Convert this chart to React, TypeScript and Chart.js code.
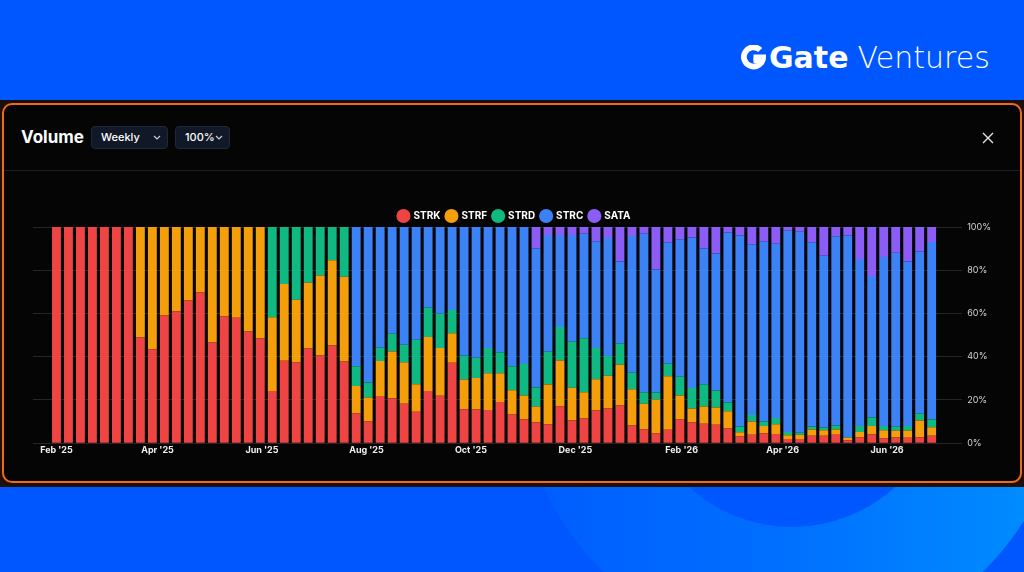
import React, { useEffect, useRef } from "react";
import { Chart, registerables } from "chart.js";

Chart.register(...registerables);

// ---- data ----
const START_DATE = "2025-02-01";
const WEEK_COUNT = 74;
const SERIES_NAMES = ["STRK", "STRF", "STRD", "STRC", "SATA"];
const SERIES_COLORS = ["#EF4444", "#F59E0B", "#10B981", "#3B82F6", "#8B5CF6"];

const STRK = [100, 100, 100, 100, 100, 100, 100, 48.9, 43.4, 59.1, 61, 66, 69.8, 46.6, 58.6, 58, 51.7, 48.5, 24.2, 38.1, 37.3, 43.8, 40.6, 45.2, 37.8, 13.9, 10.0, 21.8, 20.8, 18.2, 14.5, 24.1, 21.9, 37.2, 15.7, 15.6, 15.4, 19.0, 13.3, 11.1, 9.7, 8.8, 17.0, 10.6, 11.4, 15.1, 16.0, 17.4, 8.2, 6.5, 4.5, 6.2, 11.0, 9.7, 9.0, 8.5, 6.8, 3.1, 3.9, 4.5, 4.3, 1.9, 1.9, 3.5, 3.5, 3.9, 1.4, 2.6, 4.0, 2.3, 2.6, 2.5, 2.8, 3.4];
const STRF = [0, 0, 0, 0, 0, 0, 0, 51.1, 56.6, 40.9, 39, 34, 30.2, 53.4, 41.4, 42, 48.3, 51.5, 34.1, 35.5, 29.1, 30.4, 37, 39.4, 39.2, 12.5, 11.1, 16.2, 21.6, 19.3, 12.8, 25.0, 22.1, 13.7, 13.8, 14.5, 17.0, 13.3, 11.2, 11.0, 7.3, 18.4, 21.3, 15.0, 12.2, 14.5, 15.2, 18.9, 16.8, 11.7, 15.7, 24.8, 11.1, 6.3, 8.0, 8.0, 8.0, 2.0, 6.1, 3.4, 4.5, 1.8, 2.0, 2.8, 2.5, 2.4, 1.1, 2.6, 3.9, 3.7, 3.3, 3.4, 7.7, 4.0];
const STRD = [0, 0, 0, 0, 0, 0, 0, 0, 0, 0, 0, 0, 0, 0, 0, 0, 0, 0, 41.7, 26.4, 33.6, 25.8, 22.4, 15.4, 23, 9.2, 7.0, 6.1, 8.2, 8.0, 20.5, 13.6, 15.9, 10.7, 10.9, 9.4, 11.6, 9.8, 11.1, 14.5, 8.8, 15.1, 15.4, 21.3, 25.0, 14.4, 9.1, 9.7, 7.6, 5.4, 3.3, 5.7, 8.6, 9.5, 10.3, 7.9, 4.0, 2.6, 3.1, 2.1, 2.9, 1.5, 0.9, 1.4, 1.3, 1.9, 0.4, 2.8, 4.0, 2.0, 1.7, 2.1, 3.1, 3.6];
const STRC = [0, 0, 0, 0, 0, 0, 0, 0, 0, 0, 0, 0, 0, 0, 0, 0, 0, 0, 0, 0, 0, 0, 0, 0, 0, 64.4, 71.9, 55.9, 49.4, 54.5, 52.2, 37.3, 40.1, 38.4, 59.6, 60.5, 56.0, 57.9, 64.4, 63.4, 64.2, 54.0, 42.6, 49.4, 48.3, 49.4, 54.6, 38.1, 63.2, 73.3, 56.9, 56.2, 63.6, 69.6, 62.7, 63.3, 78.6, 88.4, 78.9, 83.2, 80.6, 93.1, 93.0, 85.2, 79.4, 87.5, 93.2, 77.2, 65.4, 78.1, 80.5, 76.1, 75.1, 82.1];
const SATA = [0, 0, 0, 0, 0, 0, 0, 0, 0, 0, 0, 0, 0, 0, 0, 0, 0, 0, 0, 0, 0, 0, 0, 0, 0, 0, 0, 0, 0, 0, 0, 0, 0, 0, 0, 0, 0, 0, 0, 0, 10.0, 3.7, 3.7, 3.7, 3.1, 6.6, 5.1, 15.9, 4.2, 3.1, 19.6, 7.1, 5.7, 4.9, 10.0, 12.3, 2.6, 3.9, 8.0, 6.8, 7.7, 1.7, 2.2, 7.1, 13.3, 4.3, 3.9, 14.8, 22.7, 13.9, 11.9, 15.9, 11.3, 6.9];

const TICK_DATES = ["2025-02-01", "2025-04-01", "2025-06-01", "2025-08-01", "2025-10-01", "2025-12-01", "2026-02-01", "2026-04-01", "2026-06-01"];
const TICK_LABELS = ["Feb '25", "Apr '25", "Jun '25", "Aug '25", "Oct '25", "Dec '25", "Feb '26", "Apr '26", "Jun '26"];
const Y_TICKS = [0, 20, 40, 60, 80, 100];

const dayOffset = (d: string) => Math.round((Date.parse(d) - Date.parse(START_DATE)) / 86400000);
// week positions (days since start), one per weekly bar
const WEEK_DAYS = Array.from({ length: WEEK_COUNT }, (_, i) => i * 7);
const TICK_DAYS = TICK_DATES.map(dayOffset);
const SERIES_VALUES = [STRK, STRF, STRD, STRC, SATA];

const FONT = "Inter, 'Noto Sans', 'DejaVu Sans', sans-serif";

const legendGap = {
  id: "legendGap",
  afterInit(chart: any) {
    const legend = chart.legend;
    if (!legend) return;
    const origFit = legend.fit;
    legend.fit = function () {
      origFit.call(this);
      this.height -= 4;
    };
  },
};

function VolumeChart() {
  const ref = useRef<HTMLCanvasElement | null>(null);
  useEffect(() => {
    if (!ref.current) return;
    const chart = new Chart(ref.current, {
      type: "bar",
      plugins: [legendGap],
      data: {
        labels: WEEK_DAYS,
        datasets: SERIES_NAMES.map((name, i) => ({
          label: name,
          data: SERIES_VALUES[i],
          backgroundColor: SERIES_COLORS[i],
          borderWidth: 0,
          categoryPercentage: 1,
          barPercentage: 0.74,
        })),
      },
      options: {
        animation: false,
        responsive: true,
        maintainAspectRatio: false,
        layout: { padding: { left: 13, right: 4, top: 0, bottom: 0 } },
        plugins: {
          tooltip: { enabled: false },
          legend: {
            position: "top",
            align: "center",
            labels: {
              usePointStyle: true,
              pointStyle: "circle",
              boxWidth: 10,
              boxHeight: 10,
              padding: 6,
              color: "#ffffff",
              font: { family: FONT, size: 10, weight: "bold" },
            },
          },
        },
        scales: {
          x: {
            type: "linear",
            stacked: true,
            offset: false,
            min: -13.7,
            max: 528.8,
            grid: { display: false, drawTicks: false },
            border: { display: false },
            afterBuildTicks: (scale: any) => {
              scale.ticks = TICK_DAYS.map((v) => ({ value: v }));
            },
            ticks: {
              autoSkip: false,
              maxRotation: 0,
              padding: 2,
              color: "#f0f0f0",
              font: { family: FONT, size: 9, weight: "bold" },
              callback: (_v: any, i: number) => TICK_LABELS[i],
            },
          },
          y: {
            position: "right",
            stacked: true,
            min: 0,
            max: 100,
            afterBuildTicks: (scale: any) => {
              scale.ticks = Y_TICKS.map((v) => ({ value: v }));
            },
            grid: { color: "#262626", lineWidth: 1, drawTicks: false },
            border: { display: false },
            ticks: {
              padding: 5,
              color: "#d4d4d4",
              font: { family: FONT, size: 9 },
              callback: (v: any) => `${v}%`,
            },
          },
        },
      } as any,
    });
    return () => chart.destroy();
  }, []);
  return <canvas ref={ref} />;
}

function SelectBox({ left, width, text }: { left: number; width: number; text: string }) {
  return (
    <div
      style={{
        position: "absolute",
        left,
        top: 126,
        width,
        height: 23,
        boxSizing: "border-box",
        background: "#111827",
        border: "1px solid #1f2937",
        borderRadius: 4,
        color: "#fff",
        fontSize: 11,
        fontWeight: 500,
        lineHeight: "21px",
        paddingLeft: 9,
      }}
    >
      {text}
      <svg width="8" height="5" viewBox="0 0 8 5" style={{ position: "absolute", right: 6, top: 8 }}>
        <path d="M1 1 L4 4 L7 1" stroke="#cbd5e1" strokeWidth="1.1" fill="none" />
      </svg>
    </div>
  );
}

export default function App() {
  useEffect(() => {
    document.body.style.margin = "0";
  }, []);
  return (
    <div
      style={{
        position: "fixed",
        left: 0,
        top: 0,
        width: 1024,
        height: 572,
        overflow: "hidden",
        background: "#0057ff",
        fontFamily: FONT,
      }}
    >
      {/* logo */}
      <div style={{ position: "absolute", left: 741, top: 38, height: 38, display: "flex", alignItems: "center", color: "#fff" }}>
        <svg width="25" height="25" viewBox="0 0 26 26" style={{ marginRight: 3 }}>
          <path d="M20 5.2 A10 10 0 1 0 23 13 L13 13" stroke="#fff" strokeWidth="6" fill="none" />
          <rect x="13" y="13" width="6" height="6" fill="#fff" />
        </svg>
        <span style={{ fontSize: 30, fontWeight: 700, letterSpacing: 0, fontFamily: "'DejaVu Sans', sans-serif" }}>Gate</span>
        <span style={{ fontSize: 30, fontWeight: 200, marginLeft: 9, fontFamily: "'DejaVu Sans', sans-serif" }}>Ventures</span>
      </div>

      {/* bottom decoration */}
      <div style={{ position: "absolute", left: 0, top: 487, width: 1024, height: 85, overflow: "hidden" }}>
        <div
          style={{
            position: "absolute",
            left: 793 - 272,
            top: 377 - 272 - 487,
            width: 544,
            height: 544,
            borderRadius: "50%",
            background: "linear-gradient(90deg, #005cff 0%, #0070ff 50%, #0090ff 100%)",
          }}
        />
        <div
          style={{
            position: "absolute",
            left: 792 - 153,
            top: 374 - 153 - 487,
            width: 306,
            height: 306,
            borderRadius: "50%",
            background: "#0057ff",
          }}
        />
      </div>

      {/* dark strip */}
      <div style={{ position: "absolute", left: 0, top: 100, width: 1024, height: 387, background: "#1c1008" }} />

      {/* panel */}
      <div
        style={{
          position: "absolute",
          left: 2,
          top: 103,
          width: 1020,
          height: 380,
          boxSizing: "border-box",
          border: "2px solid #f06a1c",
          borderRadius: 10,
          background: "#050505",
        }}
      />
      <div style={{ position: "absolute", left: 21, top: 126, height: 23, lineHeight: "23px", color: "#fff", fontSize: 17, fontWeight: 700 }}>
        Volume
      </div>
      <SelectBox left={91} width={77} text="Weekly" />
      <SelectBox left={175} width={55} text="100%" />
      <svg width="12" height="12" viewBox="0 0 12 12" style={{ position: "absolute", left: 982, top: 132 }}>
        <path d="M1 1 L11 11 M11 1 L1 11" stroke="#e5e5e5" strokeWidth="1.4" />
      </svg>
      <div style={{ position: "absolute", left: 4, top: 170, width: 1016, height: 1, background: "#1b1f27" }} />

      {/* chart */}
      <div style={{ position: "absolute", left: 20, top: 205, width: 980, height: 253 }}>
        <VolumeChart />
      </div>
    </div>
  );
}
